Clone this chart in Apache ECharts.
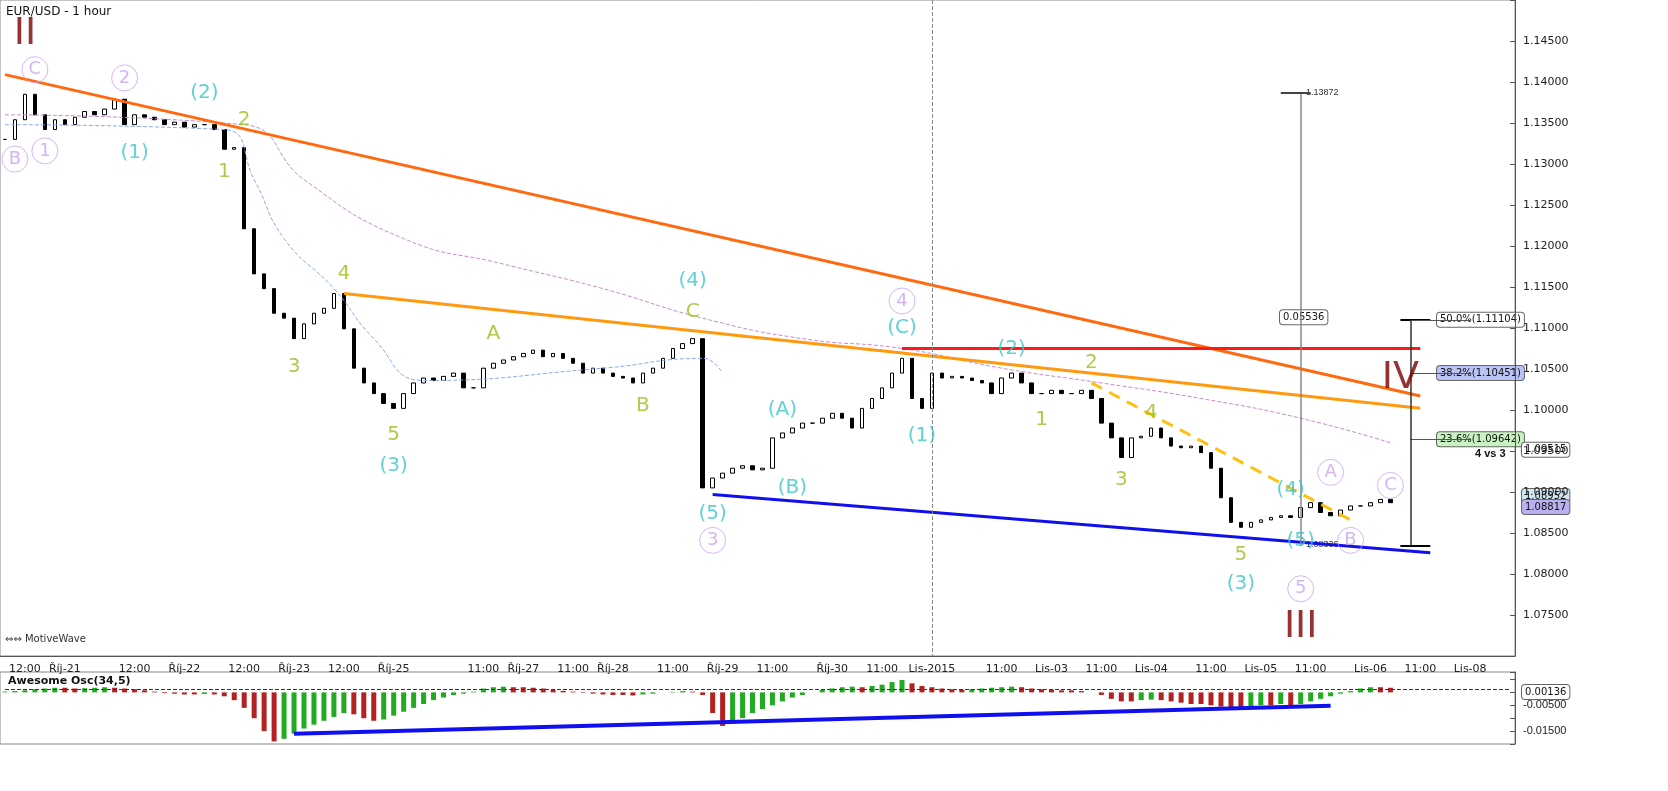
<!DOCTYPE html>
<html><head><meta charset="utf-8">
<script src="https://cdn.jsdelivr.net/npm/echarts@6/dist/echarts.min.js"></script>
<style>html,body{margin:0;padding:0;background:#fff}#c{width:1668px;height:791px}</style>
</head><body><div id="c"></div>
<script>
// closes per 2-hour slot, EUR/USD
const closes=[1.1330,1.1354,1.1385,1.1360,1.1342,1.1354,1.1348,1.1357,1.1364,1.1360,1.1367,1.1379,1.1348,1.1360,1.1357,1.1354,1.1348,1.1351,1.1345,1.1348,
1.1348,1.1342,1.1318,1.1320,1.1221,1.1166,1.1148,1.1118,1.1112,1.1087,1.1105,1.1118,1.1124,1.1142,1.1099,1.1051,1.1033,1.1020,1.1008,1.1002,
1.1020,1.1033,1.1039,1.1036,1.1041,1.1045,1.1027,1.1027,1.1051,1.1057,1.1061,1.1065,1.1069,1.1073,1.1065,1.1069,1.1063,1.1057,1.1045,1.1051,
1.1045,1.1041,1.1039,1.1033,1.1045,1.1051,1.1063,1.1075,1.1081,1.1087,1.0905,1.0917,1.0923,1.0929,1.0932,1.0927,1.0929,1.0966,1.0972,1.0978,
1.0984,1.0984,1.0990,1.0996,1.0990,1.0978,1.1002,1.1014,1.1027,1.1045,1.1063,1.1014,1.1002,1.1045,1.1039,1.1041,1.1039,1.1036,1.1033,1.1020,
1.1039,1.1045,1.1033,1.1020,1.1020,1.1024,1.1020,1.1020,1.1024,1.1014,1.0984,1.0966,1.0942,1.0966,1.0968,1.0978,1.0966,1.0956,1.0954,1.0956,
1.0948,1.0929,1.0893,1.0863,1.0857,1.0863,1.0866,1.0869,1.0871,1.0869,1.0881,1.0887,1.0875,1.0871,1.0878,1.0883,1.0883,1.0887,1.0891,1.0887];
const ao=[0.3,0.5,0.8,1.2,1.5,1.8,1.8,1.5,1.6,1.8,2.0,1.8,1.5,1.2,0.8,0.3,-0.3,-0.5,-0.8,-0.8,
-0.6,-0.8,-1.5,-3,-6,-10,-15,-19,-18,-16,-14,-12.5,-11,-9.5,-8,-8.5,-10,-11,-10.5,-9,
-7.5,-6,-4.5,-3,-2,-1,-0.5,0.3,1.5,2,2.2,2,2,1.8,1.5,1,0.6,0.3,-0.2,-0.5,
-0.8,-1,-1,-1.2,-0.8,-0.5,0,0.2,0.5,0.3,-1,-8,-13,-12,-10,-8,-6.5,-5,-3.5,-2,
-1,0,1,1.5,2,2.2,2,2.5,3,4,4.8,3.5,2.5,2,1.5,1.2,1,1.2,1.5,1.8,
2,2.2,2,1.5,1.2,1,0.8,0.8,0.5,0,-1,-2.5,-3.5,-3.5,-3,-2.8,-3,-3.5,-4,-4.5,
-4.5,-5,-5.5,-6,-6,-5.5,-5,-5,-4.5,-5,-4.5,-3.5,-2.5,-1.5,-0.5,0.5,1.5,2,2,1.8];
const tickLabels={2:'12:00',6:'Říj-21',13:'12:00',18:'Říj-22',24:'12:00',29:'Říj-23',34:'12:00',39:'Říj-25',48:'11:00',52:'Říj-27',57:'11:00',61:'Říj-28',67:'11:00',72:'Říj-29',77:'11:00',83:'Říj-30',88:'11:00',93:'Lis-2015',100:'11:00',105:'Lis-03',110:'11:00',115:'Lis-04',121:'11:00',126:'Lis-05',131:'11:00',137:'Lis-06',142:'11:00',147:'Lis-08'};
const maPurple=[[0,1.1360],[24,1.1348],[30,1.1281],[40,1.1209],[50,1.1178],[60,1.1148],[70,1.1112],[80,1.1087],[90,1.1075],[100,1.1051],[110,1.1033],[120,1.1014],[130,1.0990],[139,1.0960]];
const maBlue=[[0,1.1348],[22,1.1342],[25,1.1281],[28,1.1209],[33,1.1148],[37,1.1087],[42,1.1036],[60,1.1051],[70,1.1063],[72,1.1045]];
const waveLabels=[
 [2,1.1458,'II','brown'],[130,1.0735,'III','brown'],[139.5,1.1039,'IV','brown'],
 [2.5,1.1415,'C','purple'],[11.8,1.1405,'2','purple'],[0.8,1.1306,'B','purple'],[4.3,1.1316,'1','purple'],[89.8,1.1133,'4','purple'],[70.6,1.0841,'3','purple'],[130,1.0782,'5','purple'],[132.5,1.0924,'A','purple'],[134.5,1.0841,'B','purple'],[139,1.0908,'C','purple'],
 [19.6,1.1387,'(2)','cyan'],[12.6,1.1314,'(1)','cyan'],[69.4,1.1157,'(4)','cyan'],[39,1.0932,'(3)','cyan'],[77.8,1.1000,'(A)','cyan'],[79,1.0905,'(B)','cyan'],[70.6,1.0874,'(5)','cyan'],[89.8,1.1100,'(C)','cyan'],[92.2,1.0968,'(1)','cyan'],[101,1.1075,'(2)','cyan'],[128.5,1.0903,'(4)','cyan'],[129.8,1.0841,'(5)','cyan'],[124,1.0788,'(3)','cyan'],
 [24,1.1354,'2','green'],[22.2,1.1291,'1','green'],[33.8,1.1166,'4','green'],[29.3,1.1053,'3','green'],[39,1.0970,'5','green'],[49,1.1093,'A','green'],[69.3,1.1120,'C','green'],[63.6,1.1005,'B','green'],[104,1.0988,'1','green'],[108.8,1.1057,'2','green'],[115.2,1.0996,'4','green'],[112,1.0915,'3','green'],[124.2,1.0824,'5','green']];
const N=152;
const cats=[];for(let i=0;i<N;i++)cats.push(String(i));
const ohlc=closes.map((c,i)=>{const o=i?closes[i-1]:c;return [o,c,Math.min(o,c),Math.max(o,c)];});
const aoData=ao.map((v,i)=>({value:v/1000,itemStyle:{color:(i&&v<=ao[i-1])?'#b22222':'#22aa22'}}));
const colors={brown:'#7a0000',purple:'#c9a3f2',cyan:'#38c6cc',green:'#9cbd1c'};
const lblData=waveLabels.map(w=>{
 const circ=w[3]==='purple';
 return {value:[w[0],w[1]],symbol:'circle',symbolSize:circ?26:1,
  itemStyle:{color:'rgba(0,0,0,0)',borderColor:circ?colors.purple:'rgba(0,0,0,0)',borderWidth:circ?1:0},
  label:{show:true,position:'inside',formatter:w[2],color:colors[w[3]],fontSize:w[3]==='brown'?38:(circ?18:20),fontFamily:w[3]==='brown'?'Liberation Sans Narrow, DejaVu Sans':'DejaVu Sans'}};
});
function seg(a,b,color,width,type){return [{coord:a,lineStyle:{color:color,width:width,type:type||'solid'}},{coord:b}];}
const chart=echarts.init(document.getElementById('c'));
chart.setOption({
 animation:false,
 grid:[{left:0,right:153,top:0,height:656,show:true,borderColor:'#888'},{left:0,right:153,top:672,height:72,show:true,borderColor:'#888'}],
 xAxis:[{type:'category',data:cats,gridIndex:0,boundaryGap:true,
   axisLine:{lineStyle:{color:'#555'}},
   axisTick:{interval:(i)=>tickLabels[i]!==undefined,lineStyle:{color:'#555'}},
   axisLabel:{interval:(i)=>tickLabels[i]!==undefined,hideOverlap:false,formatter:(v,i)=>tickLabels[i]||'',color:'#222',fontSize:11,fontFamily:'DejaVu Sans'},splitLine:{show:false}},
  {type:'category',data:cats,gridIndex:1,axisLabel:{show:false},axisTick:{show:false},axisLine:{show:false}}],
 yAxis:[{type:'value',gridIndex:0,position:'right',min:1.07,max:1.15,interval:0.005,
   axisLine:{show:true,lineStyle:{color:'#555'}},axisTick:{show:true,inside:true},splitLine:{show:false},
   axisLabel:{formatter:v=>(v<1.0725||v>1.1475)?'':v.toFixed(5),color:'#222',fontSize:11,fontFamily:'DejaVu Sans'}},
  {type:'value',gridIndex:1,position:'right',min:-0.02,max:0.0079,interval:0.005,
   axisLine:{show:true,lineStyle:{color:'#555'}},splitLine:{show:false},axisTick:{show:true,inside:true},
   axisLabel:{formatter:v=>(Math.abs(v+0.015)<1e-6?'-0.01500':(Math.abs(v+0.005)<1e-6?'-0.00500':'')),color:'#222',fontSize:11}}],
 series:[
  {type:'line',data:maPurple,xAxisIndex:0,yAxisIndex:0,symbol:'none',smooth:true,lineStyle:{color:'#c88ad0',width:1,type:'dashed'}},
  {type:'line',data:maBlue,xAxisIndex:0,yAxisIndex:0,symbol:'none',smooth:true,lineStyle:{color:'#8aa8f0',width:1,type:'dashed'}},
  {type:'candlestick',data:ohlc,barWidth:4,xAxisIndex:0,yAxisIndex:0,
   itemStyle:{color:'#fff',color0:'#000',borderColor:'#000',borderColor0:'#000',borderWidth:1},
   markLine:{silent:true,symbol:'none',label:{show:false},data:[
    [{coord:[0,1.1409],lineStyle:{color:'#ff6a10',width:3,type:'solid'}},{coord:[142,1.1017]}],
    seg([34,1.1142],[142,1.1002],'#ff9a10',3),
    seg([90,1.1075],[142,1.1075],'#ff1a1a',3),
    seg([70.8,1.0897],[142.5,1.0826],'#1010ee',3),
    seg([109,1.1033],[135,1.0866],'#ffc010',3,[12,8]),
    seg([93,1.15],[93,1.07],'#888',1,'dashed'),
    seg([130,1.1387],[130,1.0834],'#888',1.5),
    seg([127.5,1.1387],[131,1.1387],'#444',2),
    seg([139.5,1.1110],[143,1.1110],'#000',2),
    seg([139.5,1.0834],[143,1.0834],'#000',2),
    seg([141,1.1110],[147,1.1110],'#555',1),
    seg([141,1.10451],[147,1.10451],'#555',1),
    seg([141,1.09642],[147,1.09642],'#555',1),
    seg([141,1.1110],[141,1.0834],'#333',1.5)
   ]}},
  {type:'scatter',data:lblData,xAxisIndex:0,yAxisIndex:0,z:5},
  {type:'bar',data:aoData,xAxisIndex:1,yAxisIndex:1,barWidth:5,
   markLine:{silent:true,symbol:'none',label:{show:false},data:[
    [{coord:[0,0.00136],lineStyle:{color:'#333',type:'dashed',width:1}},{coord:[151,0.00136]}],
    [{coord:[28.5,-0.016],lineStyle:{color:'#1010ee',width:4,type:'solid'}},{coord:[132.8,-0.0052]}]]}}
 ]
});
const yp=v=>chart.convertToPixel({xAxisIndex:0,yAxisIndex:0},[0,v])[1];
function box(x,y,text,fill){return {type:'text',x:x,y:y,style:{text:text,fontSize:10,fill:'#111',fontFamily:'DejaVu Sans',backgroundColor:fill,borderColor:'#666',borderWidth:1,borderRadius:3,padding:[2,3],verticalAlign:'middle'}};}
chart.setOption({graphic:[
 {type:'text',x:6,y:6,style:{text:'EUR/USD - 1 hour',fontSize:12,fill:'#111',fontFamily:'DejaVu Sans'}},
 {type:'text',x:5,y:634,style:{text:'⇔⇔ MotiveWave',fontSize:10,fill:'#333',fontFamily:'DejaVu Sans'}},
 {type:'text',x:8,y:676,style:{text:'Awesome Osc(34,5)',fontSize:11,fontWeight:'bold',fill:'#111',fontFamily:'DejaVu Sans'}},
 box(1437,yp(1.1110),'50.0%(1.11104)','#fff'),
 box(1437,yp(1.10451),'38.2%(1.10451)','#b9c3f5'),
 box(1437,yp(1.09642),'23.6%(1.09642)','#c8f2c0'),
 {type:'text',x:1475,y:yp(1.0946),style:{text:'4 vs 3',fontSize:11,fontWeight:'bold',fill:'#111',verticalAlign:'middle'}},
 box(1280,yp(1.1113),'0.05536','#fff'),
 {type:'text',x:1306,y:yp(1.1387),style:{text:'1.13872',fontSize:9,fill:'#333',verticalAlign:'middle'}},
 {type:'text',x:1306,y:yp(1.0836),style:{text:'1.08336',fontSize:9,fill:'#333',verticalAlign:'middle'}},
 box(1522,yp(1.09515),'1.09515','#fff'),
 box(1522,yp(1.08952),'1.08952','#cfe6f5'),
 box(1522,yp(1.08817),'1.08817','#b9b0f0'),
 box(1522,692,'0.00136','#fff')
]});
</script></body></html>
